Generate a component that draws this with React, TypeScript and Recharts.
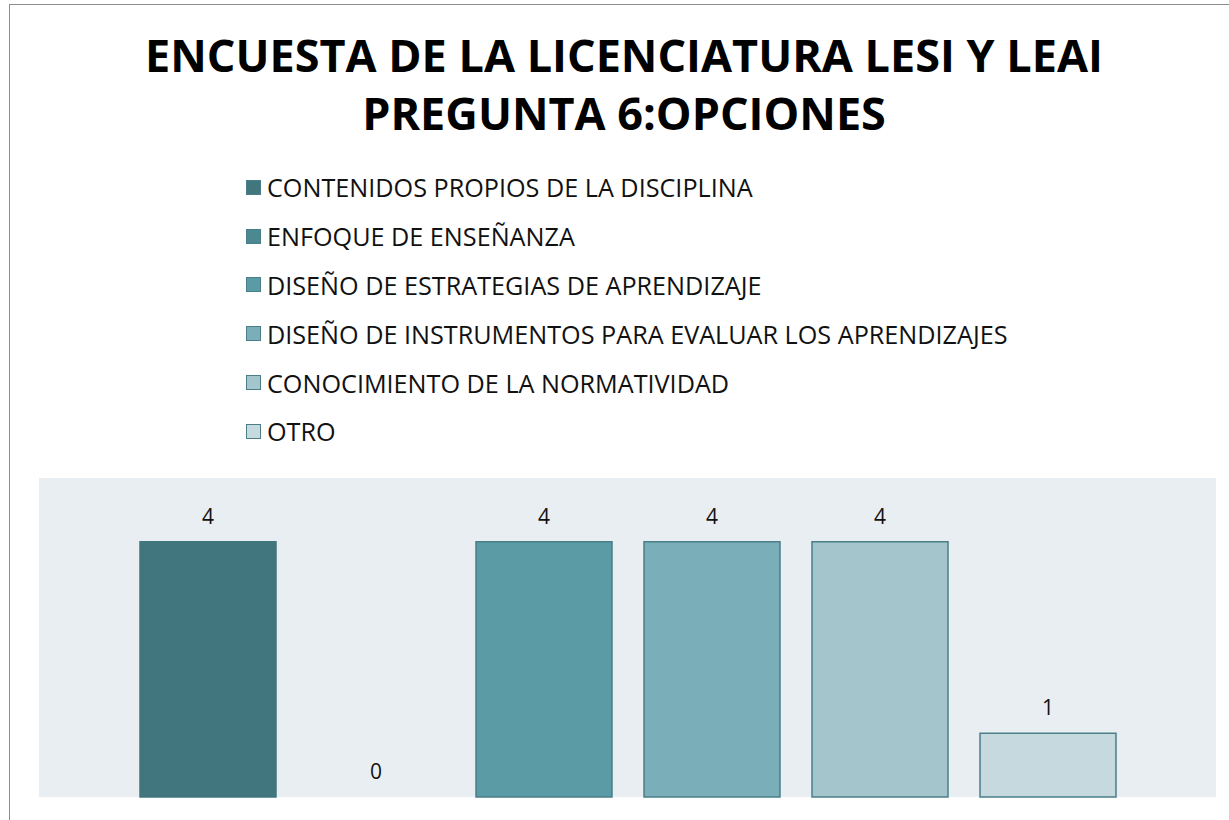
import { BarChart, Bar, XAxis, YAxis, CartesianGrid, Legend, LabelList } from "recharts";

const categories = ["PREGUNTA 6"];
const seriesNames = [
  "CONTENIDOS PROPIOS DE LA DISCIPLINA",
  "ENFOQUE DE ENSEÑANZA",
  "DISEÑO DE ESTRATEGIAS DE APRENDIZAJE",
  "DISEÑO DE INSTRUMENTOS PARA EVALUAR LOS APRENDIZAJES",
  "CONOCIMIENTO DE LA NORMATIVIDAD",
  "OTRO",
];
const seriesValues = [4, 0, 4, 4, 4, 1];
const seriesColors = ["#41767f", "#4b8891", "#5a9ba5", "#7aaeb8", "#a4c5cc", "#c5d9de"];
const titleLines = ["ENCUESTA DE LA LICENCIATURA LESI Y LEAI", "PREGUNTA 6:OPCIONES"];

const data = categories.map((category) => {
  const row: Record<string, string | number> = { category };
  seriesValues.forEach((v, i) => {
    row["s" + i] = v;
  });
  return row;
});

const FONT = "'Open Sans', 'Noto Sans', sans-serif";

function renderLegend(props: any) {
  const items = [...(props.payload || [])].sort(
    (a: any, b: any) => seriesNames.indexOf(a.value) - seriesNames.indexOf(b.value)
  );
  return (
    <div style={{ fontFamily: FONT }}>
      {items.map((item: any) => (
        <div
          key={item.value}
          style={{ display: "flex", alignItems: "center", height: 48.8, fontSize: 25.2, color: "#111" }}
        >
          <span
            style={{
              display: "inline-block",
              width: 13,
              height: 13,
              background: item.color,
              border: "1.5px solid #4a7f88",
              marginRight: 6,
            }}
          />
          {item.value}
        </div>
      ))}
    </div>
  );
}

function renderValue(props: any) {
  const { x, y, width, value } = props;
  return (
    <text
      x={Number(x) + Number(width) / 2}
      y={Number(y) - 18}
      textAnchor="middle"
      fill="#111"
      fontSize={21}
      fontFamily={FONT}
    >
      {Math.round(Number(value))}
    </text>
  );
}

export default function App() {
  return (
    <div
      style={{
        position: "fixed",
        left: 9,
        top: 4,
        width: 1228,
        height: 830,
        border: "1.5px solid #8c8c8c",
        background: "#fff",
      }}
    >
      <div
        style={{
          position: "absolute",
          top: 21,
          left: 0,
          width: "100%",
          textAlign: "center",
          fontFamily: FONT,
          fontWeight: 700,
          fontSize: 45,
          lineHeight: "58px",
          color: "#000",
          zIndex: 2,
        }}
      >
        {titleLines.map((t) => (
          <div key={t}>{t}</div>
        ))}
      </div>
      <BarChart
        width={1228}
        height={830}
        data={data}
        margin={{ top: 473, right: 22, bottom: 38, left: 29 }}
        barCategoryGap={101}
        barGap={32}
      >
        <CartesianGrid horizontal={false} vertical={false} fill="#e8eef1" />
        <XAxis
          dataKey="category"
          height={0}
          tick={false}
          tickLine={false}
          axisLine={{ stroke: "#9a9a9a", strokeWidth: 2 }}
        />
        <YAxis hide width={0} domain={[0, 5]} />
        <Legend
          layout="vertical"
          align="center"
          verticalAlign="middle"
          content={renderLegend}
          wrapperStyle={{ top: 158, left: 236, width: 900 }}
        />
        {seriesNames.map((name, i) => (
          <Bar
            key={name}
            dataKey={"s" + i}
            name={name}
            fill={seriesColors[i]}
            stroke={seriesValues[i] === 0 ? "none" : i === 0 ? "#41767f" : "#4a7f88"}
            strokeWidth={1.5}
            minPointSize={0.01}
            isAnimationActive={false}
          >
            <LabelList dataKey={"s" + i} content={renderValue} />
          </Bar>
        ))}
      </BarChart>
    </div>
  );
}
